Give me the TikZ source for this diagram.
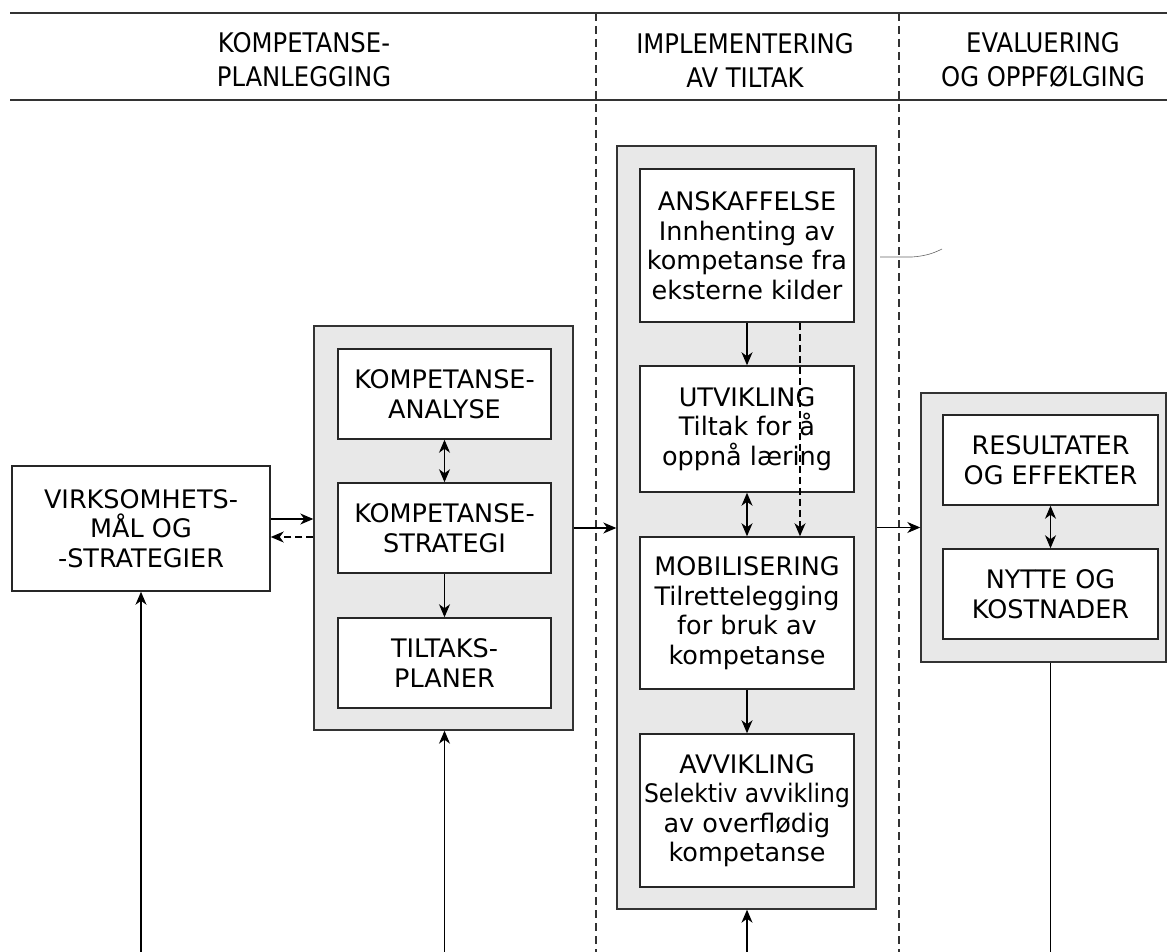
\documentclass[tikz,border=0pt]{standalone}
\usepackage{fontspec}
\setmainfont{DejaVu Sans}
\newfontfamily\hdfont[FakeStretch=0.9]{DejaVu Sans}
\newfontfamily\narrowfont[FakeStretch=0.92]{DejaVu Sans}
\usetikzlibrary{arrows.meta}

\begin{document}
\begin{tikzpicture}[
        x=1pt, y=-1pt,
        rule/.style={line width=1.4pt, draw=black!80},
        lane/.style={line width=1.1pt, draw=black!80, dash pattern=on 8pt off 5pt},
        hdr/.style={font=\hdfont\fontsize{27}{34}\selectfont, align=center},
        grp/.style={draw=black!80, line width=1.4pt, fill=black!9, inner sep=0pt},
        box/.style={draw=black!85, line width=1.5pt, fill=white, align=center, inner sep=0pt,
            font=\fontsize{25.5}{29.5}\selectfont},
        arr/.style={line width=1.1pt, -{Stealth[length=13pt, width=11pt, inset=4pt]}},
        biarr/.style={line width=1.1pt, {Stealth[length=13pt, width=11pt, inset=4pt]}-{Stealth[length=13pt, width=11pt, inset=4pt]}},
    ]
    \useasboundingbox (0,0) rectangle (1167,952);

    % header band and the three phases
    \draw[rule] (10,13) -- (1167,13);
    \draw[rule] (10,100) -- (1167,100);
    \draw[lane] (596,13) -- (596,952);
    \draw[lane] (899,13) -- (899,952);
    \node[hdr] (hdplan) at (304,60) {KOMPETANSE-\\PLANLEGGING};
    \node[hdr] (hdimpl) at (745,60) {IMPLEMENTERING\\AV TILTAK};
    \node[hdr] (hdeval) at (1043,60) {EVALUERING\\OG OPPFØLGING};

    % goals of the business
    \node[box, minimum width=258pt, minimum height=125pt] (vmal) at (141,528.5)
        {VIRKSOMHETS-\\MÅL OG\\-STRATEGIER};

    % planning
    \node[grp, minimum width=259pt, minimum height=404pt] (grp1) at (443.5,528) {};
    \node[box, minimum width=213pt, minimum height=90pt] (ana) at (444.5,394) {KOMPETANSE-\\ANALYSE};
    \node[box, minimum width=213pt, minimum height=90pt] (str) at (444.5,528) {KOMPETANSE-\\STRATEGI};
    \node[box, minimum width=213pt, minimum height=90pt] (tps) at (444.5,663) {TILTAKS-\\PLANER};

    % implementation
    \node[grp, minimum width=259pt, minimum height=763pt] (grp2) at (746.5,527.5) {};
    \node[box, minimum width=214pt, minimum height=153pt] (ans) at (747,245.5)
        {ANSKAFFELSE\\Innhenting av\\kompetanse fra\\eksterne kilder};
    \node[box, minimum width=214pt, minimum height=126pt] (utv) at (747,429)
        {UTVIKLING\\Tiltak for å\\oppnå læring};
    \node[box, minimum width=214pt, minimum height=152pt] (mob) at (747,613)
        {MOBILISERING\\Tilrettelegging\\for bruk av\\kompetanse};
    \node[box, minimum width=214pt, minimum height=153pt] (avv) at (747,810.5)
        {AVVIKLING\\{\narrowfont Selektiv avvikling}\\av overflødig\\kompetanse};

    % evaluation
    \node[grp, minimum width=245pt, minimum height=269pt] (grp3) at (1043.5,527.5) {};
    \node[box, minimum width=215pt, minimum height=90pt] (res) at (1050.5,460) {RESULTATER\\OG EFFEKTER};
    \node[box, minimum width=215pt, minimum height=90pt] (nyt) at (1050.5,594) {NYTTE OG\\KOSTNADER};

    % flow between the phases
    \draw[arr] ([yshift=9.5pt]vmal.east) -- ([yshift=9.5pt]vmal.east -| grp1.west);
    \draw[arr, dash pattern=on 7pt off 4pt] ([yshift=-8.5pt]vmal.east -| grp1.west) -- ([yshift=-8.5pt]vmal.east);
    \draw[arr] (grp1.east) -- (grp1.east -| grp2.west);
    \draw[arr] (grp2.east) -- (grp2.east -| grp3.west);

    % inside the boxes
    \draw[biarr] (ana) -- (str);
    \draw[arr] (str) -- (tps);
    \draw[arr] (ans) -- (utv);
    \draw[biarr] (utv) -- (mob);
    \draw[arr] (mob) -- (avv);
    \draw[arr, dash pattern=on 7pt off 4pt] ([xshift=53pt]ans.south) -- ([xshift=53pt]mob.north);
    \draw[biarr] (res) -- (nyt);

    % feedback lines from below
    \foreach \x/\t in {141/vmal, 444.5/grp1, 747/grp2}{
        \coordinate (in-\t) at (\x,952);
        \draw[arr] (in-\t) -- (in-\t |- \t.south);
    }
    \coordinate (out3) at (1050.5,952);
    \draw[line width=1.1pt] (nyt |- grp3.south) -- (out3);

    % stray pencil mark
    \draw[black!60, line width=.6pt] (880,257) -- (912,257) .. controls (926,256) and (934,253) .. (942,249);
\end{tikzpicture}
\end{document}
